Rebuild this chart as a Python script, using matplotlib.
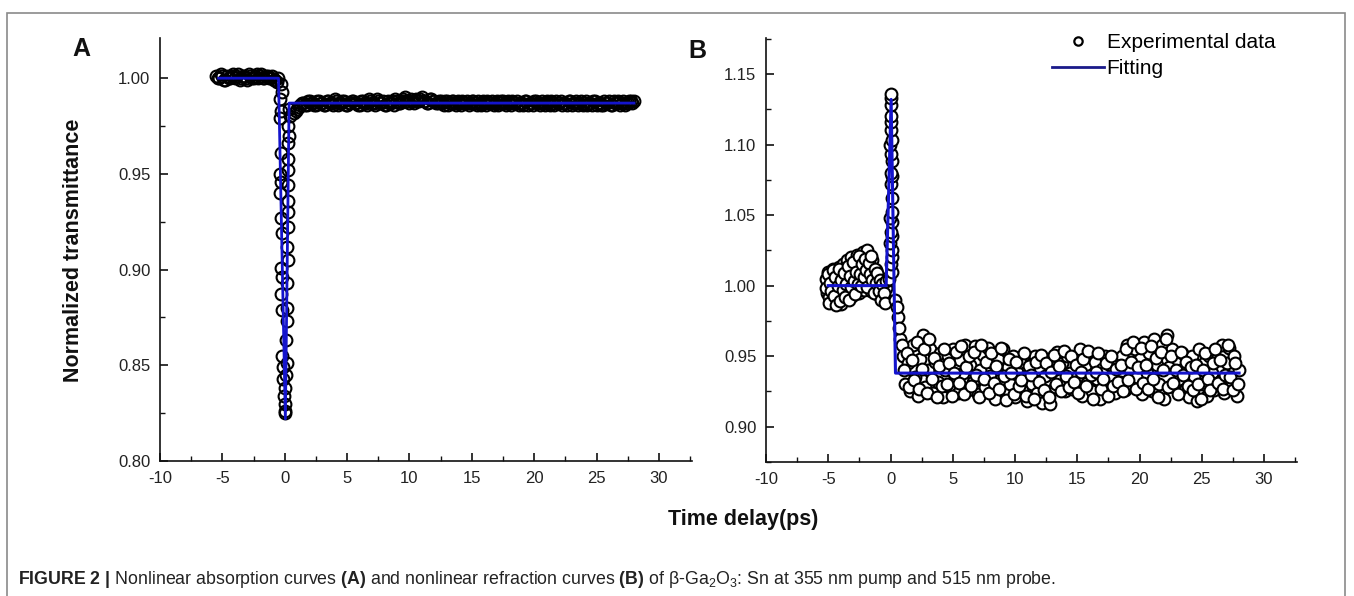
import numpy as np
import matplotlib
matplotlib.use('Agg')
import matplotlib.pyplot as plt
from matplotlib.ticker import MultipleLocator, FormatStrFormatter
from matplotlib.lines import Line2D
from matplotlib.patches import Rectangle

plt.rcParams['font.family'] = ['Liberation Sans', 'DejaVu Sans']
plt.rcParams['mathtext.fontset'] = 'custom'
plt.rcParams['mathtext.rm'] = 'Liberation Sans'
plt.rcParams['mathtext.bf'] = 'Liberation Sans:bold'
plt.rcParams['mathtext.it'] = 'Liberation Sans:italic'
plt.rcParams['axes.unicode_minus'] = False

# ---------------- Panel A data (nonlinear absorption) ----------------
A_pre_x = np.arange(-5.5, -0.49, 0.25)
A_pre_y = [1.001, 1.000, 1.001, 0.999, 1.000, 1.001, 1.000, 1.002, 1.000, 1.001,
           0.999, 1.001, 1.000, 1.002, 1.001, 1.000, 1.001, 1.000, 1.001, 0.999, 1.000]
A_pre2_x = np.arange(-5.375, -0.6, 0.25)
A_pre2_y = [1.000, 1.002, 0.999, 1.001, 1.000, 1.002, 1.001, 0.999, 1.001, 1.000,
            1.002, 1.000, 1.001, 1.000, 1.002, 1.000, 1.001, 1.000, 0.999, 0.998]

A_dip_x = [-0.30, -0.25, -0.35, -0.30, -0.35, 0.35, 0.40, 0.30, 0.35, 0.30,
           -0.30, 0.30, -0.35, 0.25, -0.30, 0.30, -0.35, 0.25, -0.30, 0.30,
           -0.25, 0.25, 0.20, -0.30, 0.25, -0.25, 0.20, -0.30, 0.20, -0.25,
           0.15, 0.10, -0.20, 0.15, -0.10, 0.10, -0.10, 0.05, -0.05, 0.05, 0.00, 0.02]
A_dip_y = [0.997, 0.993, 0.989, 0.983, 0.979, 0.984, 0.980, 0.975, 0.970, 0.966,
           0.961, 0.958, 0.950, 0.952, 0.946, 0.944, 0.940, 0.936, 0.927, 0.930,
           0.919, 0.922, 0.912, 0.901, 0.905, 0.896, 0.893, 0.887, 0.880, 0.879,
           0.873, 0.863, 0.855, 0.851, 0.849, 0.845, 0.843, 0.838, 0.834, 0.830, 0.826, 0.825]

A_post_x = np.arange(0.75, 28.01, 0.25)
A_post_y = [0.982, 0.984, 0.986, 0.987, 0.986, 0.988, 0.987, 0.986, 0.988, 0.987,
            0.986, 0.988, 0.987, 0.989, 0.986, 0.987, 0.988, 0.986, 0.987, 0.988,
            0.987, 0.986, 0.988, 0.987, 0.989, 0.987, 0.986, 0.988, 0.987, 0.986,
            0.988, 0.987, 0.986, 0.988, 0.987, 0.989, 0.988, 0.987, 0.988, 0.989,
            0.988, 0.990, 0.988, 0.987, 0.989, 0.988, 0.987, 0.988, 0.986, 0.988,
            0.987, 0.988, 0.986, 0.987, 0.988, 0.987, 0.986, 0.988, 0.987, 0.988,
            0.986, 0.987, 0.988, 0.987, 0.986, 0.988, 0.987, 0.988, 0.986, 0.987,
            0.988, 0.987, 0.986, 0.987, 0.988, 0.986, 0.987, 0.988, 0.987, 0.986,
            0.987, 0.988, 0.986, 0.987, 0.988, 0.987, 0.986, 0.987, 0.988, 0.986,
            0.987, 0.986, 0.988, 0.987, 0.986, 0.987, 0.988, 0.986, 0.987, 0.986,
            0.987, 0.988, 0.986, 0.987, 0.988, 0.987, 0.986, 0.987, 0.988, 0.988]
A_post2_x = np.arange(0.875, 27.9, 0.25)
A_post2_y = [0.983, 0.985, 0.987, 0.986, 0.988, 0.987, 0.986, 0.988, 0.987, 0.986,
             0.988, 0.987, 0.986, 0.988, 0.987, 0.988, 0.986, 0.987, 0.988, 0.987,
             0.986, 0.988, 0.987, 0.986, 0.988, 0.987, 0.989, 0.987, 0.988, 0.986,
             0.987, 0.988, 0.989, 0.987, 0.988, 0.990, 0.988, 0.989, 0.987, 0.988,
             0.989, 0.988, 0.987, 0.989, 0.988, 0.987, 0.988, 0.987, 0.988, 0.986,
             0.988, 0.987, 0.988, 0.986, 0.987, 0.988, 0.987, 0.988, 0.986, 0.987,
             0.988, 0.986, 0.987, 0.988, 0.987, 0.986, 0.988, 0.987, 0.988, 0.986,
             0.987, 0.988, 0.987, 0.986, 0.988, 0.987, 0.986, 0.988, 0.987, 0.988,
             0.986, 0.987, 0.988, 0.986, 0.987, 0.988, 0.987, 0.986, 0.988, 0.987,
             0.988, 0.987, 0.986, 0.988, 0.987, 0.986, 0.988, 0.987, 0.986, 0.988,
             0.987, 0.986, 0.988, 0.987, 0.986, 0.988, 0.987, 0.988, 0.987]

A_fit_x = [-5.3, -0.5, 0.05, 0.35, 28.0]
A_fit_y = [1.000, 1.000, 0.822, 0.987, 0.987]

# ---------------- Panel B data (nonlinear refraction) ----------------
B_pre_x = np.arange(-5.2, -0.35, 0.1)
B_pre_y = [1.005, 0.995, 1.010, 0.992, 1.008, 0.998, 1.012, 0.990, 1.003, 1.009,
           0.994, 1.013, 0.987, 1.006, 1.015, 0.991, 1.010, 1.018, 0.996, 1.004,
           1.020, 0.993, 1.012, 1.016, 0.998, 1.022, 1.005, 0.995, 1.019, 1.010,
           1.024, 0.997, 1.008, 1.025, 1.002, 1.014, 0.996, 1.018, 1.006, 1.000,
           1.011, 0.994, 1.007, 0.998, 1.003, 0.991, 1.005, 0.993, 0.998]
B_pre2_x = np.arange(-5.15, -0.3, 0.1)
B_pre2_y = [0.998, 1.008, 0.988, 1.002, 0.996, 1.011, 0.993, 1.006, 0.986, 1.000,
            1.012, 0.989, 1.004, 0.997, 1.009, 0.992, 1.001, 1.014, 0.990, 1.007,
            0.999, 1.017, 1.003, 0.994, 1.010, 1.001, 1.021, 1.008, 1.000, 1.015,
            1.006, 1.019, 1.011, 0.999, 1.016, 1.008, 1.021, 1.004, 0.995, 1.012,
            1.002, 1.009, 0.996, 1.004, 0.990, 1.001, 0.995, 0.988, 1.003]

B_peak_x = [-0.10, 0.15, 0.05, 0.15, 0.10, -0.05, 0.10, 0.05, 0.15, -0.05,
            0.10, 0.15, 0.05, 0.10, 0.00, 0.10, 0.05, -0.05, 0.10, 0.00,
            0.05, 0.00, 0.05, 0.02, 0.02]
B_peak_y = [1.005, 1.010, 1.015, 1.020, 1.025, 1.030, 1.035, 1.038, 1.045, 1.048,
            1.052, 1.062, 1.072, 1.078, 1.080, 1.088, 1.093, 1.100, 1.103, 1.110,
            1.116, 1.120, 1.128, 1.133, 1.136]

B_post_x = np.arange(0.4, 28.01, 0.2)
B_post_y = [0.990, 0.978, 0.962, 0.950, 0.930, 0.945, 0.925, 0.958, 0.935, 0.922,
            0.948, 0.965, 0.928, 0.940, 0.955, 0.924, 0.946, 0.932, 0.952, 0.921,
            0.940, 0.950, 0.929, 0.955, 0.935, 0.924, 0.947, 0.938, 0.958, 0.926,
            0.944, 0.932, 0.957, 0.923, 0.940, 0.951, 0.928, 0.956, 0.936, 0.945,
            0.920, 0.948, 0.933, 0.955, 0.925, 0.942, 0.930, 0.950, 0.921, 0.939,
            0.946, 0.926, 0.935, 0.918, 0.944, 0.930, 0.950, 0.924, 0.940, 0.917,
            0.936, 0.948, 0.916, 0.942, 0.928, 0.953, 0.933, 0.945, 0.925, 0.950,
            0.938, 0.927, 0.948, 0.935, 0.955, 0.922, 0.943, 0.931, 0.952, 0.925,
            0.946, 0.934, 0.920, 0.941, 0.950, 0.928, 0.944, 0.936, 0.924, 0.947,
            0.932, 0.950, 0.926, 0.958, 0.940, 0.929, 0.955, 0.935, 0.948, 0.923,
            0.960, 0.938, 0.952, 0.925, 0.962, 0.944, 0.930, 0.958, 0.920, 0.965,
            0.942, 0.955, 0.928, 0.948, 0.934, 0.952, 0.925, 0.944, 0.921, 0.950,
            0.936, 0.918, 0.955, 0.930, 0.945, 0.922, 0.950, 0.938, 0.926, 0.948,
            0.932, 0.958, 0.924, 0.945, 0.956, 0.930, 0.950, 0.922, 0.940]
B_post2_x = np.arange(0.5, 27.91, 0.2)
B_post2_y = [0.985, 0.970, 0.958, 0.940, 0.952, 0.928, 0.947, 0.933, 0.960, 0.927,
             0.941, 0.955, 0.924, 0.962, 0.934, 0.949, 0.921, 0.943, 0.929, 0.955,
             0.930, 0.945, 0.922, 0.938, 0.953, 0.931, 0.957, 0.923, 0.942, 0.950,
             0.929, 0.953, 0.937, 0.921, 0.958, 0.934, 0.946, 0.924, 0.952, 0.931,
             0.943, 0.927, 0.956, 0.936, 0.919, 0.948, 0.938, 0.923, 0.946, 0.929,
             0.933, 0.952, 0.922, 0.943, 0.937, 0.920, 0.946, 0.932, 0.951, 0.926,
             0.945, 0.921, 0.939, 0.951, 0.930, 0.943, 0.925, 0.954, 0.936, 0.928,
             0.950, 0.932, 0.944, 0.924, 0.939, 0.948, 0.929, 0.954, 0.937, 0.920,
             0.939, 0.952, 0.927, 0.934, 0.945, 0.922, 0.950, 0.929, 0.941, 0.932,
             0.944, 0.925, 0.955, 0.933, 0.946, 0.960, 0.927, 0.942, 0.956, 0.931,
             0.944, 0.927, 0.957, 0.934, 0.949, 0.921, 0.953, 0.940, 0.962, 0.928,
             0.950, 0.931, 0.940, 0.923, 0.953, 0.937, 0.946, 0.929, 0.942, 0.926,
             0.944, 0.930, 0.920, 0.940, 0.952, 0.934, 0.926, 0.945, 0.955, 0.931,
             0.947, 0.927, 0.937, 0.958, 0.935, 0.926, 0.945, 0.930]

B_fit_x = [-5.0, -0.35, 0.05, 0.4, 28.0]
B_fit_y = [1.000, 1.000, 1.132, 0.938, 0.938]

x_ticks = [-10, -5, 0, 5, 10, 15, 20, 25, 30]
A_yticks = [0.80, 0.85, 0.90, 0.95, 1.00]
B_yticks = [0.90, 0.95, 1.00, 1.05, 1.10, 1.15]

caption = (r"$\mathbf{FIGURE\ 2\ |}$ Nonlinear absorption curves $\mathbf{(A)}$ and nonlinear "
           r"refraction curves $\mathbf{(B)}$ of β-Ga$_\mathregular{2}$O$_\mathregular{3}$: Sn at "
           r"355 nm pump and 515 nm probe.")

# ---------------- Figure ----------------
W, H = 1354, 596
fig = plt.figure(figsize=(W / 100, H / 100), dpi=100)

def px_axes(l, t, r, b):
    return fig.add_axes([l / W, 1 - b / H, (r - l) / W, (b - t) / H])

BLUE = '#1414cc'

def style(ax, ylim, yticks):
    ax.set_xlim(-10, 32.65)
    ax.set_ylim(*ylim)
    for s in ('top', 'right'):
        ax.spines[s].set_visible(False)
    for s in ('left', 'bottom'):
        ax.spines[s].set_linewidth(1.2)
        ax.spines[s].set_color('#111111')
    ax.set_xticks(x_ticks)
    ax.set_yticks(yticks)
    ax.xaxis.set_minor_locator(MultipleLocator(2.5))
    ax.yaxis.set_minor_locator(MultipleLocator(0.025))
    ax.yaxis.set_major_formatter(FormatStrFormatter('%.2f'))
    ax.tick_params(which='major', direction='in', length=6, width=1.2, labelsize=12,
                   pad=7, color='#111111', labelcolor='#222222')
    ax.tick_params(which='minor', direction='in', length=3.5, width=1.0, color='#111111')
    ax.patch.set_alpha(0)

mk = dict(ls='none', marker='o', ms=8.5, mec='black', mew=1.5, zorder=2, clip_on=False)

axA = px_axes(160, 38, 692, 461)
style(axA, (0.80, 1.021), A_yticks)
for xs, ys in ((A_pre_x, A_pre_y), (A_pre2_x, A_pre2_y), (A_dip_x, A_dip_y),
               (A_post_x, A_post_y), (A_post2_x, A_post2_y)):
    axA.plot(xs, ys, mfc='none', **mk)
axA.plot(A_fit_x, A_fit_y, color=BLUE, lw=2.0, zorder=3)

axB = px_axes(766, 38, 1297, 462)
style(axB, (0.875, 1.1755), B_yticks)
for xs, ys in ((B_pre_x, B_pre_y), (B_pre2_x, B_pre2_y), (B_peak_x, B_peak_y),
               (B_post_x, B_post_y), (B_post2_x, B_post2_y)):
    axB.plot(xs, ys, mfc='white', **mk)
axB.plot(B_fit_x, B_fit_y, color=BLUE, lw=2.2, zorder=3)

handles = [Line2D([], [], ls='none', marker='o', ms=6, mfc='white', mec='black', mew=1.6),
           Line2D([], [], color='#1a1a8a', lw=2.0)]
fig.legend(handles, ['Experimental data', 'Fitting'], loc='upper left',
           bbox_to_anchor=(1052 / W, 1 - 33 / H), frameon=False, fontsize=15,
           handlelength=2.5, handletextpad=0.12, labelspacing=0.34,
           borderpad=0, borderaxespad=0)

fig.text(74 / W, 1 - 250 / H, 'Normalized transmittance', rotation=90,
         ha='center', va='center', fontsize=15.5, fontweight='bold', color='#111111')
fig.text(743 / W, 1 - 520 / H, 'Time delay(ps)', ha='center', va='center',
         fontsize=15.5, fontweight='bold', color='#111111')
fig.text(81 / W, 1 - 49 / H, 'A', ha='center', va='center', fontsize=18,
         fontweight='bold', color='#111111')
fig.text(697 / W, 1 - 51 / H, 'B', ha='center', va='center', fontsize=18,
         fontweight='bold', color='#111111')

cap = fig.text(18 / W, 1 - 580 / H, caption, ha='left', va='center', fontsize=12.7,
               color='#222222')
fig.canvas.draw()
wpx = cap.get_window_extent().width
cap.set_fontsize(12.7 * 1038 / wpx)

fig.patches.append(Rectangle((7 / W, -0.05), (1345 - 7) / W, 1.05 - 13 / H,
                             transform=fig.transFigure, fill=False,
                             edgecolor='#8a8a8a', lw=1.2))

fig.savefig('out.png', dpi=100, facecolor='white')
